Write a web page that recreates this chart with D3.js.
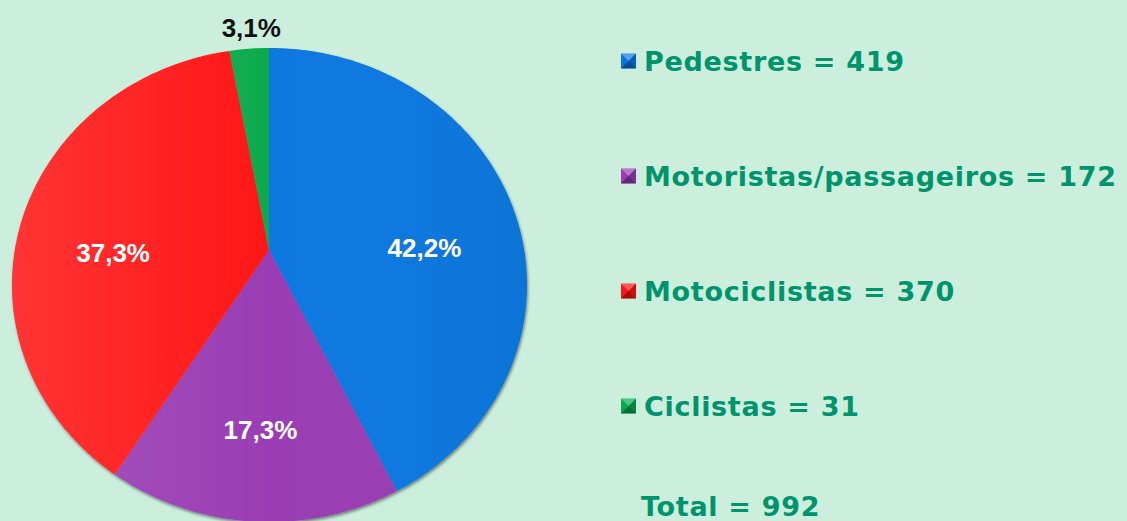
<!DOCTYPE html>
<html>
<head>
<meta charset="utf-8">
<script src="https://cdn.jsdelivr.net/npm/d3@7"></script>
<style>
  html, body { margin: 0; padding: 0; background: #cbeedd; }
  svg { display: block; }
</style>
</head>
<body>
<div id="chart"></div>
<script>
// data
const categories = ["Pedestres", "Motoristas/passageiros", "Motociclistas", "Ciclistas"];
const values = [419, 172, 370, 31];
const colors = ["#0778e0", "#9a3cb4", "#ff1515", "#09ab4e"];
const totalLabel = "Total";

const width = 1127, height = 521;

// the pie is slightly squashed/tilted: ellipse outline, apex above its centre
const cx = 269.5, cy = 285, rx = 257.5, ry = 237;
const ax = 269, ay = 250;

const total = d3.sum(values);
const fmtPct = v => d3.format(".1f")(v * 100).replace(".", ",") + "%";

const svg = d3.select("#chart").append("svg")
  .attr("width", width)
  .attr("height", height);

const defs = svg.append("defs");

const shadow = defs.append("filter").attr("id", "shadow")
  .attr("x", "-10%").attr("y", "-10%").attr("width", "120%").attr("height", "120%");
shadow.append("feDropShadow")
  .attr("dx", 1).attr("dy", 2).attr("stdDeviation", 1.5)
  .attr("flood-color", "#000").attr("flood-opacity", 0.45);

const shine = defs.append("linearGradient").attr("id", "shine")
  .attr("x1", "0%").attr("x2", "100%").attr("y1", "0%").attr("y2", "0%");
shine.append("stop").attr("offset", "0%").attr("stop-color", "#fff").attr("stop-opacity", 0.13);
shine.append("stop").attr("offset", "50%").attr("stop-color", "#fff").attr("stop-opacity", 0.0);
shine.append("stop").attr("offset", "100%").attr("stop-color", "#000").attr("stop-opacity", 0.04);

// where a ray from the apex at angle a (clockwise from top) meets the ellipse
function edgePoint(a) {
  const dx = Math.sin(a), dy = -Math.cos(a);
  const px = (ax - cx) / rx, py = (ay - cy) / ry;
  const ux = dx / rx, uy = dy / ry;
  const A = ux * ux + uy * uy;
  const B = 2 * (px * ux + py * uy);
  const C = px * px + py * py - 1;
  const t = (-B + Math.sqrt(B * B - 4 * A * C)) / (2 * A);
  return [ax + t * dx, ay + t * dy];
}

function slicePath(d) {
  const p = d3.path();
  p.moveTo(ax, ay);
  const steps = Math.max(8, Math.ceil((d.endAngle - d.startAngle) * 60));
  for (let i = 0; i <= steps; i++) {
    const a = d.startAngle + (d.endAngle - d.startAngle) * i / steps;
    const [x, y] = edgePoint(a);
    p.lineTo(x, y);
  }
  p.closePath();
  return p.toString();
}

const pie = d3.pie().sort(null).value(d => d);
const arcs = pie(values);

const pieG = svg.append("g").attr("filter", "url(#shadow)");

pieG.selectAll("path.slice")
  .data(arcs)
  .enter()
  .append("path")
  .attr("class", "slice")
  .attr("d", slicePath)
  .attr("fill", (d, i) => colors[i]);

// soft light from the left
svg.append("ellipse")
  .attr("cx", cx).attr("cy", cy).attr("rx", rx).attr("ry", ry)
  .attr("fill", "url(#shine)")
  .attr("pointer-events", "none");

// percentage labels
const small = d => d.value / total < 0.05;
const mid = d => (d.startAngle + d.endAngle) / 2;

svg.selectAll("text.pct")
  .data(arcs)
  .enter()
  .append("text")
  .attr("class", "pct")
  .attr("x", d => small(d) ? cx + rx * Math.sin(mid(d)) + 7 : cx + 0.62 * rx * Math.sin(mid(d)))
  .attr("y", d => small(d) ? cy - ry * Math.cos(mid(d)) - 21 : cy - 0.62 * ry * Math.cos(mid(d)) - 2)
  .attr("text-anchor", "middle")
  .attr("dominant-baseline", "central")
  .attr("font-family", "'Liberation Sans', Arial, sans-serif")
  .attr("font-weight", "bold")
  .attr("font-size", 26)
  .attr("fill", d => small(d) ? "#111" : "#fff")
  .text(d => fmtPct(d.value / total));

// legend
const legendX = 621, legendY = 61, rowGap = 115;
const legend = svg.selectAll("g.legend")
  .data(categories)
  .enter()
  .append("g")
  .attr("class", "legend")
  .attr("transform", (d, i) => `translate(${legendX}, ${legendY + i * rowGap})`);

const s = 15;
legend.append("rect")
  .attr("x", 0).attr("y", -s / 2).attr("width", s).attr("height", s)
  .attr("fill", (d, i) => colors[i]);
// bevel: darker bottom/right, lighter top
legend.append("path")
  .attr("d", `M0,${s / 2} L${s / 2},0 L${s},${s / 2} Z`)
  .attr("fill", "#000").attr("opacity", 0.35);
legend.append("path")
  .attr("d", `M${s},${-s / 2} L${s / 2},0 L${s},${s / 2} Z`)
  .attr("fill", "#000").attr("opacity", 0.2);
legend.append("path")
  .attr("d", `M0,${-s / 2} L${s},${-s / 2} L${s / 2},0 Z`)
  .attr("fill", "#fff").attr("opacity", 0.3);

const legendFont = "'DejaVu Sans', Verdana, sans-serif";

legend.append("text")
  .attr("x", 23)
  .attr("y", 10)
  .attr("font-family", legendFont)
  .attr("font-weight", "bold")
  .attr("font-size", 27)
  .attr("letter-spacing", 0.7)
  .attr("fill", "#00946c")
  .text((d, i) => `${d} = ${values[i]}`);

svg.append("text")
  .attr("x", 641)
  .attr("y", 516)
  .attr("font-family", legendFont)
  .attr("font-weight", "bold")
  .attr("font-size", 27)
  .attr("letter-spacing", 0.7)
  .attr("fill", "#00946c")
  .text(`${totalLabel} = ${total}`);
</script>
</body>
</html>
